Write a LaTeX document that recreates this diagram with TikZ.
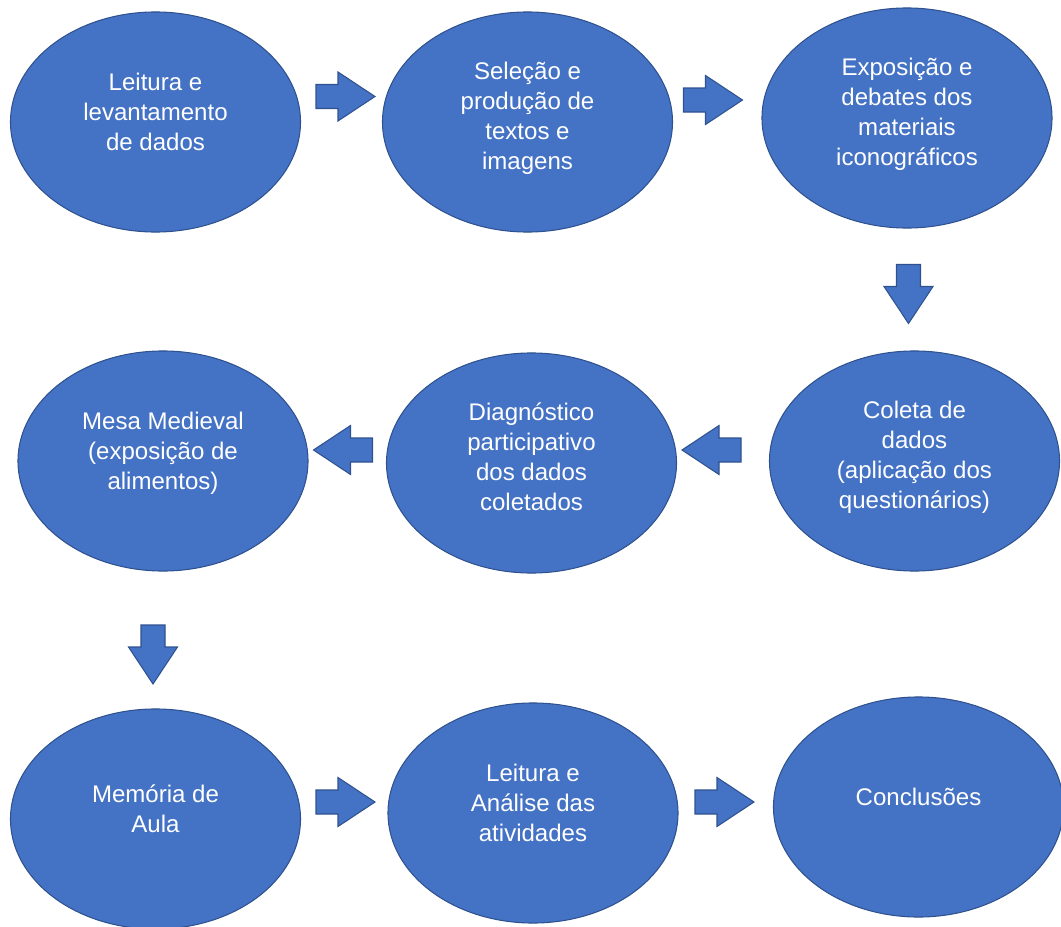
\documentclass[tikz,border=0pt]{standalone}
\usepackage{fontspec}
\setmainfont{Liberation Sans}
\usetikzlibrary{shapes.geometric}

\definecolor{stageblue}{HTML}{4472C4}
\definecolor{stageedge}{HTML}{2F528F}

\newcommand{\ovaltext}[2][5.3pt]{\raisebox{#1}[\height][\depth]{\begin{tabular}{@{}c@{}}#2\end{tabular}}}

\tikzset{
  stage/.style={ellipse, draw=stageedge, fill=stageblue, line width=0.75pt,
    minimum width=7.25cm, minimum height=5.5cm, inner sep=0pt,
    text=white, font=\fontsize{17.1}{21.3}\selectfont},
  pics/blockarrow/.style={code={
    \draw[stageedge, fill=stageblue, line width=0.75pt]
      (-29.5,-12) -- (-7.5,-12) -- (-7.5,-24.5) -- (29.5,0)
      -- (-7.5,24.5) -- (-7.5,12) -- (-29.5,12) -- cycle;}},
}

\begin{document}
\begin{tikzpicture}[x=0.025cm, y=-0.025cm]
        \useasboundingbox (0,0) rectangle (1061,927);

        % Define nodes
        \node (levantamento) [stage] at (155.5,122) {\ovaltext{Leitura e\\levantamento\\de dados}};
        \node (selecao) [stage] at (527.5,122) {\ovaltext[2.2pt]{Seleção e\\produção de\\textos e\\imagens}};
        \node (exposicao) [stage] at (907,118) {\ovaltext[2.2pt]{Exposição e\\debates dos\\materiais\\iconográficos}};
        \node (coleta) [stage] at (914.5,461) {\ovaltext[2.2pt]{Coleta de\\dados\\(aplicação dos\\questionários)}};
        \node (diagnostico) [stage] at (531.5,463) {\ovaltext[2.2pt]{Diagnóstico\\participativo\\dos dados\\coletados}};
        \node (mesa) [stage] at (163,461) {\ovaltext{Mesa Medieval\\(exposição de\\alimentos)}};
        \node (memoria) [stage] at (155.5,819) {\ovaltext{Memória de\\Aula}};
        \node (analise) [stage] at (533,813) {\ovaltext{Leitura e\\Análise das\\atividades}};
        \node (conclusoes) [stage] at (918.5,807) {\ovaltext{Conclusões}};

        % Draw arrows
        \pic (levsel) at (345.5,96.5) {blockarrow};
        \pic (selexp) at (713,100) {blockarrow};
        \pic (expcol) [rotate=-90] at (908.5,294) {blockarrow};
        \pic (coldiag) [rotate=180] at (711.5,450) {blockarrow};
        \pic (diagmesa) [rotate=180] at (343,450) {blockarrow};
        \pic (mesamem) [rotate=-90] at (153,654.5) {blockarrow};
        \pic (memana) at (345.5,802) {blockarrow};
        \pic (anaconc) at (724.5,802) {blockarrow};
    \end{tikzpicture}
\end{document}
